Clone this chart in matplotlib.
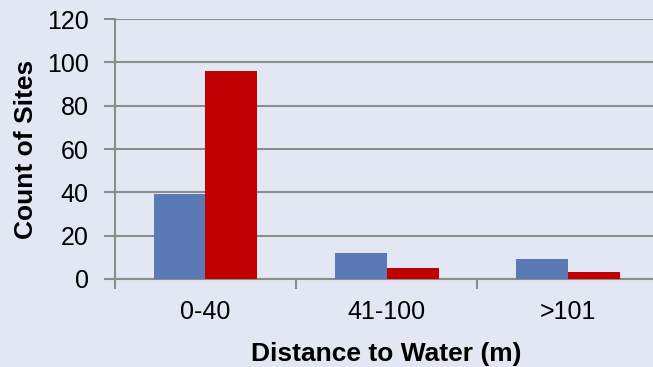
import numpy as np
import matplotlib.pyplot as plt

plt.rcParams['font.family'] = ['Liberation Sans', 'DejaVu Sans']

categories = ['0-40', '41-100', '>101']
series_a = [39, 12, 9]
series_b = [96, 5, 3]
y_ticks = [0, 20, 40, 60, 80, 100, 120]

bg = '#e3e7f3'
grid_c = '#8c8c8c'

fig = plt.figure(figsize=(6.53, 3.67), dpi=100, facecolor=bg)
ax = fig.add_axes([0.176, 0.240, 0.832, 0.708], facecolor=bg)

x = np.arange(len(categories))
w = 0.287
ax.bar(x - w / 2, series_a, width=w, color='#5b7ab5', zorder=3)
ax.bar(x + w / 2, series_b, width=w, color='#c00000', zorder=3)

ax.set_xlim(-0.5, len(categories) - 0.5)
ax.set_ylim(0, 120)
ax.set_yticks(y_ticks)
ax.yaxis.grid(True, color=grid_c, linewidth=1.5, zorder=0)
ax.tick_params(axis='y', length=8, width=1.5, color=grid_c, labelsize=18, pad=11)

# category labels sit between the boundary tick marks
ax.set_xticks(np.arange(len(categories) + 1) - 0.5)
ax.set_xticklabels([])
ax.set_xticks(x, minor=True)
ax.set_xticklabels(categories, minor=True)
ax.tick_params(axis='x', which='major', length=7, width=1.5, color=grid_c)
ax.tick_params(axis='x', which='minor', length=0, labelsize=18, pad=15)

for side in ['top', 'right']:
    ax.spines[side].set_visible(False)
ax.spines['left'].set_color(grid_c)
ax.spines['left'].set_linewidth(1.5)
ax.spines['bottom'].set_color(grid_c)
ax.spines['bottom'].set_linewidth(1.5)

ax.set_xlabel('Distance to Water (m)', fontsize=19, fontweight='bold', labelpad=13)
ax.set_ylabel('Count of Sites', fontsize=19, fontweight='bold', labelpad=6)

fig.savefig('out.png', dpi=100, facecolor=bg)
